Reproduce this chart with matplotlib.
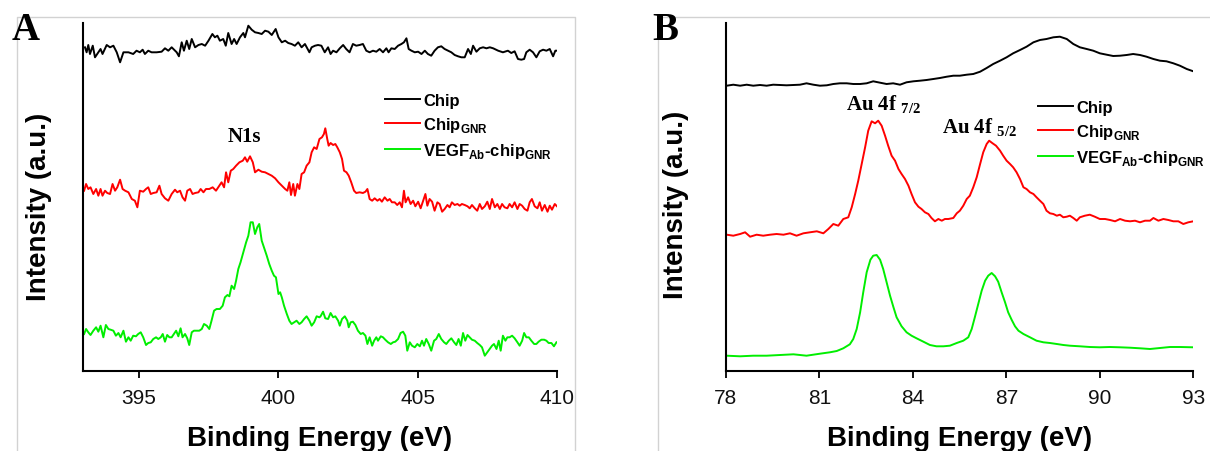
import matplotlib

matplotlib.use("Agg")
import matplotlib.pyplot as plt
from matplotlib.lines import Line2D

plt.rcParams["font.family"] = ["Liberation Sans", "DejaVu Sans"]

# ---------- панель A: N1s ----------
a_chip_e = [393.07, 393.13, 393.19, 393.25, 393.35, 393.43, 393.55, 393.63, 393.70, 393.85,
            393.97, 394.09, 394.21, 394.33, 394.45, 394.63, 394.80, 394.92, 395.04, 395.14,
            395.22, 395.34, 395.46, 395.64, 395.82, 395.94, 396.06, 396.18, 396.36, 396.44,
            396.54, 396.62, 396.72, 396.81, 396.90, 397.02, 397.14, 397.26, 397.38, 397.50,
            397.64, 397.73, 397.82, 397.91, 398.03, 398.12, 398.21, 398.33, 398.42, 398.51,
            398.63, 398.75, 398.81, 398.93, 399.05, 399.17, 399.29, 399.41, 399.53, 399.65,
            399.77, 399.91, 400.01, 400.13, 400.25, 400.36, 400.48, 400.60, 400.72, 400.84,
            400.96, 401.12, 401.20, 401.32, 401.43, 401.55, 401.67, 401.79, 401.88, 401.97,
            402.09, 402.21, 402.33, 402.44, 402.56, 402.68, 402.80, 402.92, 403.04, 403.16,
            403.28, 403.40, 403.52, 403.64, 403.76, 403.88, 403.96, 404.06, 404.18, 404.30,
            404.42, 404.51, 404.60, 404.68, 404.78, 404.90, 405.02, 405.14, 405.26, 405.37,
            405.49, 405.61, 405.73, 405.85, 405.97, 406.09, 406.21, 406.33, 406.45, 406.57,
            406.69, 406.81, 406.91, 406.99, 407.11, 407.23, 407.35, 407.47, 407.59, 407.71,
            407.89, 408.06, 408.24, 408.36, 408.48, 408.60, 408.72, 408.82, 408.90, 409.02,
            409.14, 409.26, 409.38, 409.50, 409.62, 409.74, 409.86, 409.94, 410.00]
a_chip_i = [323.7, 318.7, 326.0, 317.0, 325.3, 313.7, 318.7, 322.0, 317.0, 326.0,
            323.7, 325.3, 318.7, 308.7, 318.7, 318.7, 317.0, 320.3, 318.7, 321.3,
            317.0, 320.3, 318.7, 318.7, 319.3, 322.7, 320.3, 323.7, 318.7, 314.7,
            328.7, 320.3, 330.3, 322.0, 332.0, 323.7, 326.0, 327.0, 325.3, 330.3,
            337.0, 333.7, 335.3, 330.3, 332.0, 325.3, 338.0, 327.0, 332.0, 327.0,
            333.7, 338.0, 333.7, 345.3, 341.3, 338.7, 338.0, 337.0, 340.3, 339.3,
            336.0, 342.0, 333.7, 328.7, 330.3, 328.0, 327.0, 325.3, 328.7, 323.7,
            327.0, 318.7, 323.7, 325.3, 326.0, 325.3, 318.7, 323.7, 317.0, 320.3,
            318.7, 322.7, 326.0, 322.0, 318.7, 327.0, 325.3, 326.0, 327.0, 320.3,
            318.7, 320.3, 319.3, 322.0, 318.7, 322.7, 318.7, 322.7, 322.0, 325.3,
            327.0, 328.7, 332.7, 322.0, 320.3, 318.7, 319.3, 317.0, 320.3, 317.0,
            315.3, 320.3, 323.7, 324.7, 322.0, 320.3, 318.7, 316.0, 314.7, 313.7,
            313.7, 322.0, 317.0, 325.3, 319.3, 322.7, 323.7, 322.7, 323.7, 322.7,
            320.3, 318.7, 320.3, 318.0, 319.7, 312.0, 311.3, 312.0, 318.7, 321.3,
            318.7, 313.7, 319.7, 321.3, 320.3, 322.0, 314.7, 320.3, 320.3]

a_gnr_e = [393.04, 393.11, 393.19, 393.27, 393.37, 393.47, 393.55, 393.63, 393.70, 393.79,
           393.87, 393.97, 394.06, 394.15, 394.23, 394.33, 394.42, 394.51, 394.63, 394.75,
           394.86, 394.95, 395.04, 395.16, 395.26, 395.34, 395.43, 395.52, 395.64, 395.74,
           395.82, 395.94, 396.06, 396.18, 396.30, 396.38, 396.48, 396.57, 396.66, 396.74,
           396.84, 396.93, 397.02, 397.14, 397.22, 397.32, 397.41, 397.53, 397.65, 397.77,
           397.89, 397.97, 398.06, 398.13, 398.21, 398.30, 398.39, 398.49, 398.61, 398.73,
           398.81, 398.89, 398.99, 399.09, 399.17, 399.29, 399.41, 399.53, 399.65, 399.77,
           399.89, 400.01, 400.13, 400.25, 400.33, 400.40, 400.46, 400.54, 400.60, 400.69,
           400.76, 400.84, 400.93, 401.02, 401.12, 401.20, 401.29, 401.38, 401.48, 401.57,
           401.64, 401.69, 401.76, 401.81, 401.88, 401.97, 402.05, 402.12, 402.21, 402.29,
           402.36, 402.45, 402.53, 402.62, 402.72, 402.80, 402.92, 403.04, 403.13, 403.20,
           403.28, 403.37, 403.46, 403.56, 403.64, 403.72, 403.82, 403.92, 404.00, 404.08,
           404.18, 404.27, 404.36, 404.44, 404.51, 404.57, 404.66, 404.75, 404.84, 404.92,
           405.02, 405.11, 405.20, 405.28, 405.35, 405.43, 405.52, 405.61, 405.71, 405.79,
           405.88, 405.97, 406.07, 406.15, 406.23, 406.33, 406.43, 406.51, 406.59, 406.69,
           406.79, 406.87, 406.95, 407.05, 407.14, 407.23, 407.31, 407.41, 407.50, 407.59,
           407.67, 407.77, 407.86, 407.95, 408.03, 408.12, 408.22, 408.30, 408.39, 408.48,
           408.58, 408.66, 408.75, 408.84, 408.94, 409.02, 409.10, 409.20, 409.30, 409.38,
           409.46, 409.56, 409.66, 409.74, 409.82, 409.92, 410.00]
a_gnr_i = [180.3, 187.0, 182.0, 183.7, 177.0, 182.0, 175.3, 182.0, 175.3, 180.3,
           178.0, 177.0, 187.0, 180.3, 183.7, 191.3, 182.0, 180.3, 178.7, 172.0,
           170.3, 163.7, 180.3, 179.3, 182.0, 183.7, 177.0, 178.0, 178.7, 185.3,
           177.0, 172.7, 170.3, 177.0, 181.3, 178.7, 180.3, 173.7, 170.3, 180.3,
           182.0, 177.0, 178.0, 178.7, 182.0, 178.7, 182.0, 182.0, 183.7, 180.3,
           185.3, 188.7, 183.7, 198.7, 188.7, 200.3, 202.0, 205.3, 208.7, 210.3,
           213.7, 209.3, 214.7, 208.7, 198.7, 201.3, 199.3, 198.7, 197.0, 195.3,
           192.7, 188.7, 185.3, 182.0, 180.3, 188.7, 176.0, 187.0, 175.3, 187.0,
           182.0, 197.0, 198.7, 205.3, 208.7, 218.7, 223.7, 222.0, 232.0, 233.7,
           237.0, 242.7, 232.0, 225.3, 228.0, 226.0, 227.0, 223.7, 218.7, 212.0,
           200.3, 198.7, 195.3, 188.7, 180.3, 178.0, 178.7, 178.0, 179.3, 182.0,
           172.0, 170.3, 172.7, 170.3, 172.0, 169.3, 173.7, 170.3, 172.0, 168.7,
           168.7, 166.0, 168.7, 163.7, 180.3, 168.7, 173.7, 167.0, 170.3, 164.7,
           169.3, 162.7, 170.3, 177.0, 165.3, 172.0, 169.3, 160.3, 168.7, 167.0,
           159.3, 162.0, 166.0, 163.7, 168.7, 166.0, 167.0, 165.3, 167.0, 166.0,
           164.7, 162.7, 166.0, 162.7, 160.3, 167.0, 162.0, 164.7, 169.3, 162.0,
           172.0, 163.7, 167.0, 162.0, 167.0, 163.7, 162.7, 167.0, 163.7, 168.7,
           162.0, 167.0, 165.3, 162.0, 160.3, 168.7, 172.0, 164.7, 162.7, 168.7,
           160.3, 166.0, 159.3, 165.3, 161.3, 167.0, 164.7]

a_vegf_e = [393.04, 393.11, 393.19, 393.27, 393.37, 393.47, 393.55, 393.63, 393.73, 393.82,
            393.91, 393.99, 394.09, 394.18, 394.27, 394.35, 394.45, 394.54, 394.63, 394.71,
            394.80, 394.90, 394.98, 395.07, 395.16, 395.26, 395.34, 395.43, 395.52, 395.62,
            395.70, 395.79, 395.86, 395.94, 396.02, 396.10, 396.18, 396.26, 396.34, 396.42,
            396.50, 396.57, 396.66, 396.74, 396.81, 396.90, 396.98, 397.08, 397.17, 397.26,
            397.34, 397.44, 397.53, 397.61, 397.70, 397.79, 397.91, 398.01, 398.09, 398.18,
            398.25, 398.33, 398.42, 398.49, 398.57, 398.65, 398.75, 398.85, 398.93, 399.01,
            399.09, 399.17, 399.25, 399.32, 399.41, 399.49, 399.59, 399.68, 399.77, 399.85,
            399.92, 400.01, 400.07, 400.13, 400.21, 400.31, 400.40, 400.48, 400.57, 400.66,
            400.76, 400.84, 400.93, 401.02, 401.12, 401.20, 401.29, 401.38, 401.48, 401.52,
            401.61, 401.69, 401.79, 401.88, 401.97, 402.05, 402.15, 402.21, 402.29, 402.39,
            402.48, 402.53, 402.60, 402.68, 402.77, 402.86, 402.96, 403.04, 403.13, 403.20,
            403.28, 403.37, 403.44, 403.52, 403.58, 403.68, 403.76, 403.84, 403.94, 404.04,
            404.12, 404.20, 404.30, 404.39, 404.48, 404.56, 404.63, 404.72, 404.80, 404.90,
            404.99, 405.08, 405.16, 405.23, 405.31, 405.40, 405.49, 405.59, 405.67, 405.76,
            405.85, 405.95, 406.03, 406.12, 406.21, 406.31, 406.39, 406.47, 406.55, 406.63,
            406.71, 406.79, 406.87, 406.95, 407.05, 407.14, 407.23, 407.31, 407.41, 407.50,
            407.59, 407.67, 407.74, 407.83, 407.91, 407.98, 408.06, 408.15, 408.22, 408.30,
            408.39, 408.48, 408.58, 408.66, 408.75, 408.82, 408.90, 408.99, 409.08, 409.18,
            409.26, 409.34, 409.44, 409.54, 409.62, 409.70, 409.80, 409.89, 409.98]
a_vegf_i = [37.0, 42.0, 38.7, 36.0, 40.3, 43.7, 39.3, 45.3, 33.7, 46.0,
            42.0, 41.3, 40.3, 35.3, 38.0, 33.7, 40.3, 29.3, 33.7, 30.3,
            35.3, 34.7, 37.0, 38.7, 33.7, 26.0, 28.0, 28.7, 32.0, 33.7,
            32.0, 33.7, 37.0, 29.3, 36.0, 33.7, 33.7, 37.0, 40.3, 34.7,
            42.7, 33.7, 37.0, 32.7, 26.0, 38.7, 40.3, 40.3, 40.3, 42.0,
            47.0, 45.3, 42.0, 50.3, 60.3, 62.0, 62.0, 65.3, 73.7, 76.0,
            74.7, 85.3, 82.0, 90.3, 102.0, 108.7, 118.7, 128.7, 135.3, 148.7,
            148.7, 137.0, 143.7, 147.0, 130.3, 123.7, 115.3, 107.0, 100.3, 95.3,
            93.7, 77.0, 78.7, 73.7, 65.3, 57.0, 50.3, 47.0, 48.7, 50.3,
            47.0, 48.7, 52.0, 54.7, 50.3, 45.3, 48.7, 54.7, 53.7, 54.7,
            59.3, 52.7, 52.0, 58.0, 53.7, 54.7, 50.3, 45.3, 52.0, 54.7,
            50.3, 43.7, 48.7, 49.3, 46.0, 40.3, 37.0, 38.0, 35.3, 27.0,
            33.7, 25.3, 30.3, 33.7, 30.3, 34.7, 33.7, 31.3, 28.7, 27.0,
            28.7, 29.3, 32.0, 38.0, 39.3, 35.3, 20.3, 28.7, 25.3, 23.7,
            27.0, 24.7, 30.3, 25.3, 32.0, 27.0, 20.3, 30.3, 32.0, 37.0,
            32.0, 28.7, 27.0, 30.3, 32.7, 28.7, 26.0, 32.0, 25.3, 38.0,
            30.3, 36.0, 33.7, 31.3, 30.3, 28.0, 26.0, 23.7, 15.3, 18.7,
            22.0, 25.3, 27.0, 22.0, 30.3, 20.3, 35.3, 30.3, 33.7, 33.7,
            35.3, 32.7, 28.7, 25.3, 30.3, 38.0, 33.7, 33.7, 30.3, 27.0,
            27.0, 29.3, 31.3, 31.3, 30.3, 28.0, 28.0, 24.7, 28.7]

# ---------- панель B: Au 4f ----------
b_chip_e = [78.03, 78.24, 78.46, 78.67, 78.88, 79.10, 79.31, 79.52, 79.74, 79.95,
            80.17, 80.38, 80.59, 80.81, 81.02, 81.24, 81.45, 81.66, 81.88, 82.09,
            82.31, 82.52, 82.73, 82.95, 83.16, 83.37, 83.59, 83.80, 84.02, 84.23,
            84.44, 84.66, 84.87, 85.09, 85.30, 85.51, 85.73, 85.94, 86.16, 86.37,
            86.58, 86.80, 87.01, 87.22, 87.44, 87.65, 87.87, 88.08, 88.29, 88.51,
            88.72, 88.94, 89.15, 89.36, 89.58, 89.79, 90.00, 90.22, 90.43, 90.65,
            90.86, 91.07, 91.29, 91.50, 91.72, 91.93, 92.14, 92.36, 92.57, 92.79, 93.00]
b_chip_i = [285.3, 286.3, 285.3, 286.3, 285.3, 286.0, 285.3, 286.3, 286.0, 285.7,
            286.0, 286.3, 287.7, 286.3, 285.3, 285.7, 287.0, 287.7, 287.7, 287.0,
            287.0, 287.7, 289.7, 288.3, 287.0, 287.7, 286.3, 288.7, 289.7, 290.3,
            291.0, 292.0, 293.0, 294.3, 295.3, 295.3, 296.3, 297.0, 299.3, 303.0,
            307.0, 310.3, 313.7, 317.7, 321.0, 324.3, 328.7, 331.0, 332.0, 333.7,
            334.3, 332.0, 327.0, 323.7, 322.0, 320.3, 317.7, 316.3, 315.0, 315.3,
            316.0, 317.0, 316.0, 314.3, 312.0, 310.3, 309.7, 307.7, 305.3, 302.0, 299.7]

b_gnr_e = [78.03, 78.24, 78.46, 78.62, 78.78, 78.99, 79.20, 79.42, 79.63, 79.85,
           80.06, 80.27, 80.49, 80.70, 80.92, 81.13, 81.29, 81.45, 81.61, 81.77,
           81.93, 82.04, 82.15, 82.25, 82.36, 82.47, 82.57, 82.68, 82.79, 82.89,
           83.00, 83.11, 83.21, 83.32, 83.43, 83.54, 83.64, 83.75, 83.86, 83.96,
           84.07, 84.18, 84.28, 84.39, 84.50, 84.60, 84.71, 84.82, 84.93, 85.03,
           85.14, 85.30, 85.41, 85.51, 85.62, 85.73, 85.83, 85.94, 86.05, 86.16,
           86.26, 86.37, 86.45, 86.56, 86.67, 86.80, 86.90, 87.01, 87.12, 87.22,
           87.33, 87.44, 87.55, 87.65, 87.76, 87.87, 87.97, 88.08, 88.19, 88.29,
           88.40, 88.51, 88.62, 88.72, 88.83, 88.94, 89.04, 89.15, 89.26, 89.36,
           89.52, 89.68, 89.84, 90.00, 90.17, 90.33, 90.49, 90.65, 90.81, 90.97,
           91.13, 91.29, 91.45, 91.61, 91.72, 91.88, 92.04, 92.20, 92.36, 92.52,
           92.68, 92.84, 93.00]
b_gnr_i = [136.3, 135.3, 137.0, 138.7, 134.3, 136.3, 135.3, 136.3, 137.0, 136.3,
           137.7, 135.3, 137.7, 138.7, 139.7, 137.7, 142.0, 147.0, 145.3, 152.0,
           153.7, 163.7, 177.0, 190.3, 207.0, 223.7, 240.3, 249.7, 247.7, 250.3,
           245.3, 235.3, 225.3, 215.3, 210.3, 202.0, 197.0, 192.0, 185.3, 177.0,
           168.7, 164.3, 162.0, 158.7, 157.0, 153.0, 149.7, 152.0, 150.3, 152.0,
           152.0, 153.0, 157.7, 160.3, 165.3, 172.0, 175.3, 183.7, 193.7, 207.0,
           218.7, 227.0, 230.3, 227.7, 225.3, 220.3, 215.3, 210.3, 207.0, 203.7,
           198.7, 192.0, 183.7, 182.0, 178.7, 177.0, 173.7, 170.3, 167.0, 160.3,
           157.7, 157.0, 155.3, 156.3, 153.7, 154.3, 155.3, 153.0, 150.3, 153.7,
           155.3, 156.3, 154.3, 152.0, 152.0, 151.0, 149.7, 152.0, 150.3, 149.7,
           150.3, 148.7, 150.3, 150.3, 153.0, 150.3, 152.0, 151.0, 149.7, 149.7,
           147.0, 148.7, 149.7]

b_vegf_e = [78.03, 78.46, 78.88, 79.31, 79.74, 80.17, 80.59, 81.02, 81.34, 81.56,
            81.77, 81.98, 82.09, 82.20, 82.31, 82.41, 82.52, 82.64, 82.73, 82.84,
            82.95, 83.05, 83.16, 83.27, 83.38, 83.48, 83.64, 83.80, 83.96, 84.12,
            84.34, 84.55, 84.76, 84.98, 85.19, 85.41, 85.62, 85.78, 85.89, 85.99,
            86.10, 86.21, 86.32, 86.42, 86.53, 86.64, 86.74, 86.85, 86.96, 87.06,
            87.17, 87.28, 87.39, 87.55, 87.76, 87.97, 88.19, 88.40, 88.62, 88.83,
            89.04, 89.36, 89.68, 90.00, 90.32, 90.65, 90.97, 91.29, 91.61, 91.93,
            92.25, 92.57, 93.00]
b_vegf_i = [15.3, 14.7, 15.3, 15.3, 16.0, 16.7, 15.3, 17.3, 18.7, 20.0,
            22.7, 26.7, 32.0, 42.0, 58.7, 78.7, 98.7, 111.3, 115.3, 116.0,
            111.3, 102.0, 88.7, 75.3, 63.7, 53.7, 44.7, 38.7, 35.3, 32.7,
            29.3, 26.0, 24.7, 24.7, 25.3, 28.0, 30.3, 33.7, 42.0, 53.7,
            67.0, 80.3, 90.3, 95.3, 98.0, 94.7, 89.3, 78.7, 68.7, 58.7,
            51.3, 44.7, 40.3, 37.0, 33.7, 30.3, 28.7, 28.0, 27.0, 26.0,
            25.3, 24.7, 24.0, 23.7, 24.0, 23.7, 23.3, 22.7, 22.0, 23.0,
            24.0, 24.0, 23.7]

a_ticks = [395, 400, 405, 410]
b_ticks = [78, 81, 84, 87, 90, 93]

labels = ["Chip", r"Chip$_\mathregular{GNR}$", r"VEGF$_\mathregular{Ab}$-chip$_\mathregular{GNR}$"]
colors = ["black", "#ff0000", "#00ee00"]

fig = plt.figure(figsize=(12.1, 4.52), dpi=100)

# светло-серые рамки панелей
fig.add_artist(Line2D([17 / 1210, 17 / 1210, 575 / 1210, 575 / 1210],
                      [0, 1 - 18 / 452, 1 - 18 / 452, 0], color="#d2d2d2", lw=1))
fig.add_artist(Line2D([658 / 1210, 658 / 1210, 1], [0, 1 - 18 / 452, 1 - 18 / 452],
                      color="#d2d2d2", lw=1))

ax_a = fig.add_axes([83 / 1210, 80 / 452, 474 / 1210, 348 / 452])
ax_b = fig.add_axes([725.8 / 1210, 80 / 452, 467.5 / 1210, 348 / 452])

series_a = [(a_chip_e, a_chip_i), (a_gnr_e, a_gnr_i), (a_vegf_e, a_vegf_i)]
series_b = [(b_chip_e, b_chip_i), (b_gnr_e, b_gnr_i), (b_vegf_e, b_vegf_i)]

for ax, series in [(ax_a, series_a), (ax_b, series_b)]:
    for (e, i), c, lab in zip(series, colors, labels):
        ax.plot(e, i, color=c, lw=1.4, label=lab)
    ax.set_ylim(0, 348)
    ax.set_yticks([])
    for s in ["top", "right"]:
        ax.spines[s].set_visible(False)
    for s in ["left", "bottom"]:
        ax.spines[s].set_linewidth(1.5)
    ax.tick_params(axis="x", direction="out", length=5, width=1.3, labelsize=15, pad=7,
                   labelcolor="#111111")
    ax.set_xlabel("Binding Energy (eV)", fontsize=20, fontweight="bold", labelpad=13)
    ax.set_ylabel("Intensity (a.u.)", fontsize=20, fontweight="bold")

ax_a.set_xlim(393, 410)
ax_a.set_xticks(a_ticks)
ax_b.set_xlim(78, 93)
ax_b.set_xticks(b_ticks)
ax_a.yaxis.set_label_coords(-0.065, 0.474)
ax_b.yaxis.set_label_coords(-0.078, 0.48)

leg_kw = dict(frameon=False, loc="upper left", borderpad=0, borderaxespad=0,
              handlelength=2.1, handletextpad=0.2, labelspacing=0.42,
              prop={"weight": "bold", "size": 12})
ax_a.legend(bbox_to_anchor=(0.637, 0.80), **leg_kw)
ax_b.legend(bbox_to_anchor=(0.668, 0.78), **leg_kw)

ax_a.text(398.20, 230, "N1s", family="Liberation Serif", fontweight="bold", fontsize=15,
          va="baseline")
ax_b.text(81.85, 262, r"Au 4f $_\mathregular{7/2}$", family="Liberation Serif",
          fontweight="bold", fontsize=15, va="baseline")
ax_b.text(84.95, 239, r"Au 4f $_\mathregular{5/2}$", family="Liberation Serif",
          fontweight="bold", fontsize=15, va="baseline")

fig.text(12 / 1210, 1 - 40 / 452, "A", family="Liberation Serif", fontweight="bold",
         fontsize=28, va="baseline")
fig.text(652 / 1210, 1 - 40 / 452, "B", family="Liberation Serif", fontweight="bold",
         fontsize=28, va="baseline")

fig.savefig("out.png", dpi=100)
